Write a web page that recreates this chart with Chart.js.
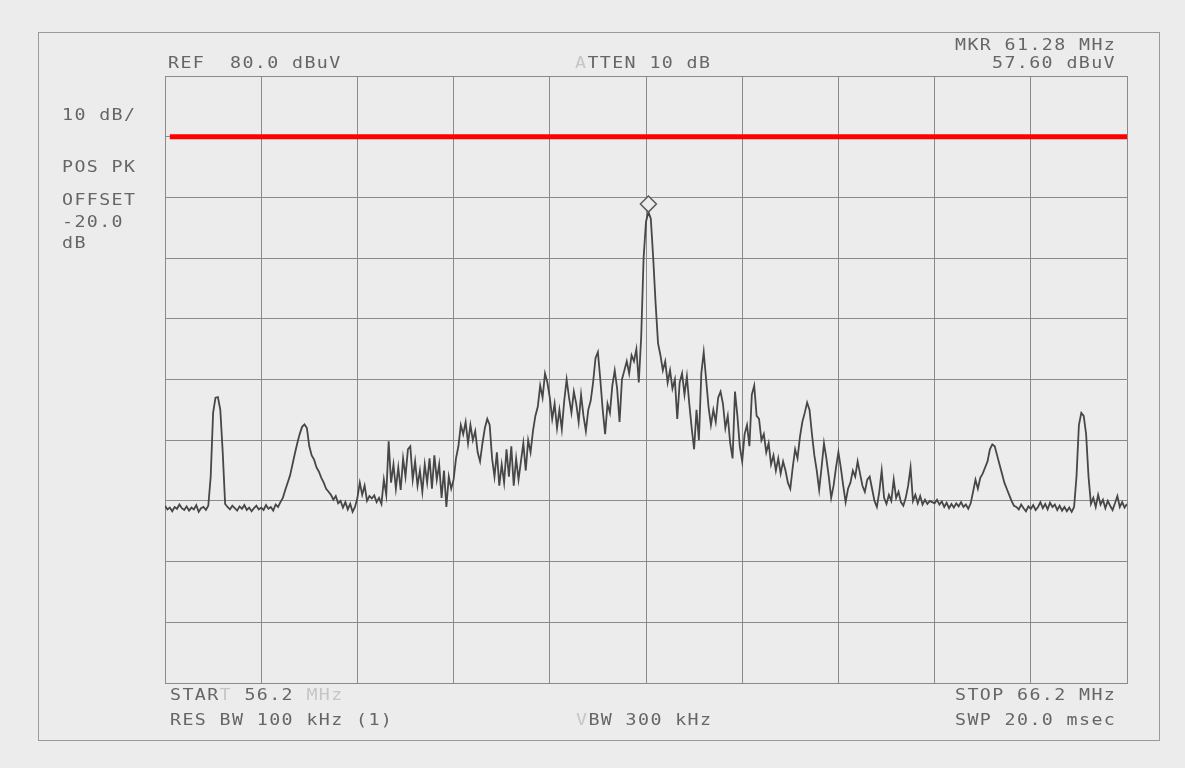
<!DOCTYPE html>
<html>
<head>
<meta charset="utf-8">
<title>Spectrum 56.2 - 66.2 MHz</title>
<script src="https://cdn.jsdelivr.net/npm/chart.js@4.4.1/dist/chart.umd.min.js"></script>
<style>
    html, body { margin: 0; padding: 0; background: #ececec; }
    canvas { display: block; }
</style>
</head>
<body>
<canvas id="spectrum" width="1185" height="768"></canvas>
<script>
// sweep settings (MHz) and level scale (dBuV)
var startFreq = 56.2;
var stopFreq = 66.2;
var freqStep = 0.025;
var refLevel = 80;
var bottomLevel = -20;
var levelPerDiv = 10;

// trace levels, one per 0.025 MHz bin, each row = 0.5 MHz
var traceLevels = [
    9.2, 8.6, 8.9, 8.3, 9.0, 8.7, 9.4, 8.8, 8.5, 9.1, 8.4, 8.9, 8.6, 9.3, 8.2, 8.8, 9.0, 8.5, 9.2, 14.0,
    24.5, 27.0, 27.1, 25.0, 18.0, 9.5, 9.0, 8.6, 9.2, 8.8, 8.4, 9.1, 8.7, 9.3, 8.5, 8.9, 8.3, 8.8, 9.2, 8.6,
    8.9, 8.5, 9.3, 8.7, 9.0, 8.4, 9.4, 9.0, 9.8, 10.5, 11.8, 13.0, 14.2, 16.0, 17.8, 19.5, 21.0, 22.2, 22.6, 22.0,
    19.0, 17.5, 16.8, 15.5, 14.8, 13.8, 13.0, 12.0, 11.5, 11.0, 10.2, 10.8, 9.6, 10.0, 8.9, 9.8, 8.6, 9.5, 8.2, 9.0,
    10.5, 13.0, 11.0, 12.5, 10.0, 10.8, 10.4, 10.9, 9.8, 10.5, 9.5, 13.5, 11.0, 19.8, 13.0, 16.0, 12.0, 15.5, 11.8, 17.0,
    14.0, 18.5, 19.0, 13.5, 16.5, 12.5, 15.0, 11.5, 16.0, 13.0, 17.0, 12.0, 17.5, 13.5, 16.0, 10.5, 15.0, 9.0, 14.0, 12.0,
    13.5, 17.0, 19.0, 22.5, 21.0, 23.0, 19.5, 22.5, 20.0, 21.5, 18.0, 16.5, 19.5, 22.0, 23.5, 22.5, 17.0, 14.0, 18.0, 12.5,
    16.0, 13.0, 18.5, 14.0, 19.0, 12.5, 17.0, 13.5, 16.5, 19.5, 15.0, 20.0, 18.0, 21.5, 24.0, 25.5, 29.0, 27.0, 31.0, 29.5,
    27.0, 23.5, 26.0, 22.0, 25.0, 21.8, 26.5, 30.0, 27.0, 24.5, 28.0, 26.0, 23.0, 27.5, 24.0, 21.5, 25.0, 26.5, 29.5, 33.5,
    34.5, 30.0, 25.0, 21.0, 26.0, 24.5, 29.0, 31.5, 28.5, 23.0, 30.0, 31.5, 33.0, 31.0, 34.0, 33.0, 35.0, 29.5, 37.0, 50.0,
    56.0, 57.6, 56.5, 50.0, 42.5, 36.0, 34.0, 31.5, 33.0, 29.5, 31.5, 28.5, 30.0, 23.5, 29.5, 31.0, 27.5, 30.5, 26.0, 22.0,
    18.5, 25.0, 20.0, 31.0, 34.5, 30.0, 25.5, 22.5, 25.0, 23.0, 27.0, 28.0, 26.0, 22.0, 24.0, 19.5, 17.0, 28.0, 24.0, 19.0,
    16.5, 21.0, 22.5, 19.0, 27.5, 29.0, 24.0, 23.5, 20.0, 21.0, 18.0, 19.5, 16.0, 17.5, 15.0, 17.0, 14.5, 16.5, 15.0, 13.0,
    12.0, 15.5, 18.5, 17.0, 20.5, 23.0, 24.5, 26.2, 25.0, 21.0, 17.5, 15.0, 11.8, 15.5, 19.5, 17.0, 14.0, 10.5, 12.5, 15.5,
    18.0, 15.5, 12.5, 9.8, 12.0, 13.0, 15.0, 14.0, 16.5, 14.5, 12.5, 11.5, 13.5, 14.0, 12.0, 10.0, 9.0, 11.5, 15.0, 10.5,
    9.5, 11.0, 10.0, 13.5, 10.5, 11.5, 9.8, 9.2, 10.5, 12.5, 15.5, 10.0, 11.0, 9.6, 10.8, 9.4, 10.2, 9.5, 10.0, 9.8,
    9.6, 10.2, 9.4, 9.9, 9.0, 9.7, 8.8, 9.5, 8.9, 9.6, 9.1, 9.8, 9.0, 9.4, 8.7, 9.6, 11.5, 13.5, 12.0, 13.8,
    14.5, 15.5, 16.5, 18.5, 19.3, 19.0, 17.5, 16.0, 14.5, 13.0, 12.0, 11.0, 10.0, 9.2, 9.0, 8.6, 9.4, 8.8, 8.3, 9.1,
    8.7, 9.3, 8.5, 9.0, 9.8, 8.8, 9.5, 8.6, 9.7, 9.0, 9.4, 8.5, 9.2, 8.4, 9.0, 8.3, 8.9, 8.2, 9.0, 14.0,
    22.5, 24.5, 24.0, 21.0, 14.0, 9.5, 10.5, 9.0, 11.0, 9.4, 10.2, 8.8, 10.0, 9.2, 8.5, 9.6, 10.8, 9.0, 9.8, 8.9,
    9.5
];

// marker diamond (drawn just above the peak)
var markerFreq = 61.225;
var markerLevel = 58.9;

// red limit line
var limitFreqs = [56.25, 66.2];
var limitLevel = 70;

// texts round the graticule
var headerTexts = [
    { text: 'REF  80.0 dBuV', x: 168, y: 68 },
    { text: 'ATTEN 10 dB', x: 575, y: 68, faded: [0] },
    { text: 'MKR 61.28 MHz', x: 955, y: 50 },
    { text: '57.60 dBuV', x: 992, y: 68 },
    { text: '10 dB/', x: 62, y: 120 },
    { text: 'POS PK', x: 62, y: 172 },
    { text: 'OFFSET', x: 62, y: 205 },
    { text: '-20.0', x: 62, y: 227 },
    { text: 'dB', x: 62, y: 248 },
    { text: 'START 56.2 MHz', x: 170, y: 700, faded: [4, 11, 12, 13] },
    { text: 'RES BW 100 kHz (1)', x: 170, y: 725 },
    { text: 'VBW 300 kHz', x: 576, y: 725, faded: [0] },
    { text: 'STOP 66.2 MHz', x: 955, y: 700 },
    { text: 'SWP 20.0 msec', x: 955, y: 725 }
];

(function () {
    var traceData = traceLevels.map(function (level, i) {
        return { x: startFreq + i * freqStep, y: level };
    });
    var limitData = limitFreqs.map(function (f) {
        return { x: f, y: limitLevel };
    });
    var freqGrid = [];
    for (var f = 0; f <= 10; f++) {
        freqGrid.push({ value: startFreq + f });
    }

    var gridColor = '#8a8a8a';
    var textColor = '#666666';
    var fadedColor = '#c6c6c6';
    var charWidth = 12.4;

    var paperPlugin = {
        id: 'paper',
        beforeDraw: function (chart) {
            var c = chart.ctx;
            c.save();
            c.fillStyle = '#ececec';
            c.fillRect(0, 0, chart.width, chart.height);
            c.strokeStyle = '#9a9a9a';
            c.lineWidth = 1;
            c.strokeRect(38.5, 32.5, 1121, 708);
            c.restore();
        },
        afterDraw: function (chart) {
            var c = chart.ctx;
            c.save();
            c.font = '15px "DejaVu Sans Mono"';
            c.textBaseline = 'alphabetic';
            c.textAlign = 'left';
            headerTexts.forEach(function (item) {
                for (var i = 0; i < item.text.length; i++) {
                    var faded = item.faded && item.faded.indexOf(i) >= 0;
                    c.fillStyle = faded ? fadedColor : textColor;
                    // plotter glyphs are a bit wider than the mono font
                    c.save();
                    c.translate(item.x + i * charWidth, item.y);
                    c.scale(1.22, 1);
                    c.fillText(item.text[i], 0, 0);
                    c.restore();
                }
            });
            c.restore();
        }
    };

    var ctx = document.getElementById('spectrum');
    var spectrumChart = new Chart(ctx, {
        type: 'line',
        data: {
            datasets: [{
                label: 'Marker',
                data: [{ x: markerFreq, y: markerLevel }],
                showLine: false,
                pointStyle: 'rectRot',
                pointRadius: 8,
                pointBorderWidth: 1.5,
                pointBorderColor: '#5a5a5a',
                pointBackgroundColor: '#ececec',
                order: 0
            }, {
                label: 'Trace',
                data: traceData,
                borderColor: '#474747',
                borderWidth: 1.8,
                pointRadius: 0,
                tension: 0,
                fill: false,
                order: 1
            }, {
                label: 'Limit',
                data: limitData,
                borderColor: '#ff0000',
                borderWidth: 5,
                pointRadius: 0,
                fill: false,
                order: 2
            }]
        },
        options: {
            responsive: false,
            animation: false,
            devicePixelRatio: 1,
            layout: {
                padding: { left: 165, top: 76, right: 58, bottom: 85 }
            },
            plugins: {
                legend: { display: false },
                tooltip: { enabled: false }
            },
            scales: {
                x: {
                    type: 'linear',
                    min: startFreq,
                    max: stopFreq,
                    afterBuildTicks: function (scale) {
                        scale.ticks = freqGrid.slice();
                    },
                    afterFit: function (scale) {
                        scale.height = 0;
                    },
                    ticks: { display: false },
                    grid: { color: gridColor, lineWidth: 1, drawTicks: false },
                    border: { color: gridColor, width: 1 }
                },
                y: {
                    type: 'linear',
                    min: bottomLevel,
                    max: refLevel,
                    afterFit: function (scale) {
                        scale.width = 0;
                    },
                    ticks: { display: false, stepSize: levelPerDiv },
                    grid: { color: gridColor, lineWidth: 1, drawTicks: false },
                    border: { color: gridColor, width: 1 }
                }
            }
        },
        plugins: [paperPlugin]
    });
})()
</script>
</body>
</html>
